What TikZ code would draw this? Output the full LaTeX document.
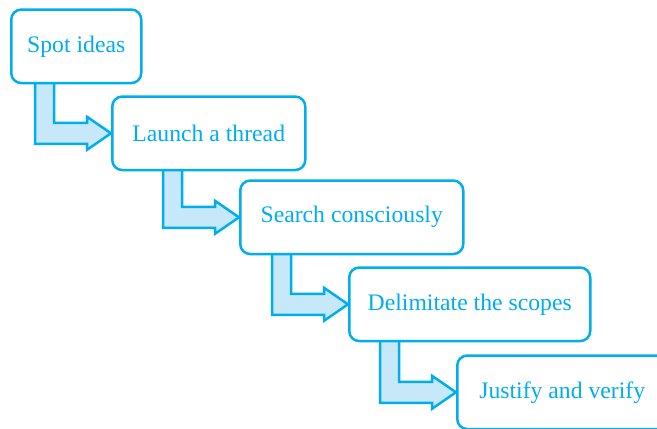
\documentclass[tikz,border=0pt]{standalone}
\usepackage{fontspec}
\setmainfont{Liberation Serif}
\usetikzlibrary{positioning, calc, backgrounds}
\definecolor{stepcyan}{RGB}{0,174,239}
\definecolor{steplight}{RGB}{198,232,248}
\tikzset{
  stepbox/.style={draw=stepcyan, line width=2.5pt, rounded corners=10pt, fill=white,
    text=stepcyan, minimum height=73.5pt, inner sep=0pt,
    font=\fontsize{23.7}{28}\selectfont},
  elbow/.style={draw=stepcyan, fill=steplight, line width=2.5pt, line join=miter},
}
% bent block arrow from the bottom of #1 into the west side of #2
\newcommand{\elbowarrow}[2]{%
  \draw[elbow] let \p1=(#2.west), \p2=(#1.south) in
    (\x1-76pt,\y2+3pt) -- (\x1-76pt,\y1-10.5pt) -- (\x1-24pt,\y1-10.5pt)
    -- (\x1-24pt,\y1-16.5pt) -- (\p1) -- (\x1-24pt,\y1+16.5pt)
    -- (\x1-24pt,\y1+10.5pt) -- (\x1-57pt,\y1+10.5pt) -- (\x1-57pt,\y2+3pt) -- cycle;}

\begin{document}
\begin{tikzpicture}[x=1pt, y=1pt]
  \useasboundingbox (0,0) rectangle (657,-429);
  \clip (0,0) rectangle (657,-429);

  \node[stepbox, minimum width=130pt, anchor=north west] (spot) at (10,-8.3) {Spot ideas};
  \node[stepbox, minimum width=193pt, below right=11pt and 101pt of spot.south west] (launch) {Launch a thread};
  \node[stepbox, minimum width=223pt, below right=8pt and 128pt of launch.south west] (search) {Search consciously};
  \node[stepbox, minimum width=241pt, below right=11pt and 109pt of search.south west] (delimit) {Delimitate the scopes};
  \node[stepbox, minimum width=210pt, below right=12pt and 108pt of delimit.south west] (justify) {Justify and verify};

  \begin{scope}[on background layer]
    \elbowarrow{spot}{launch}
    \elbowarrow{launch}{search}
    \elbowarrow{search}{delimit}
    \elbowarrow{delimit}{justify}
  \end{scope}
\end{tikzpicture}
\end{document}
